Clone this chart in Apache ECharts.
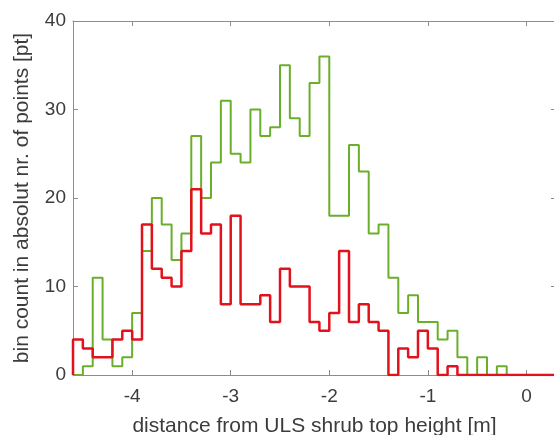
<!DOCTYPE html>
<html>
<head>
<meta charset="utf-8">
<script src="https://cdn.jsdelivr.net/npm/echarts@6/dist/echarts.min.js"></script>
<style>
  html, body { margin: 0; padding: 0; background: #fff; }
  #chart1 { width: 554px; height: 435px; }
</style>
</head>
<body>
<div id="chart1"></div>
<script>
// histogram bins: left edge of first bin and bin width [m]
var binStart = -4.6;
var binWidth = 0.1;

// bin counts, green and red histograms (one value per 0.1 m bin, from -4.6)
var greenCounts = [0, 1, 11, 4, 1, 2, 7, 14, 20, 17, 13, 16, 27, 20, 24, 31, 25, 24, 30, 27,
    28, 35, 29, 27, 33, 36, 18, 18, 26, 23, 16, 17, 11, 7, 9, 6, 6, 4, 5, 2,
    0, 2, 0, 1, 0, 0, 0, 0, 0];
var redCounts = [4, 3, 2, 2, 4, 5, 4, 17, 12, 11, 10, 14, 21, 16, 17, 8, 18, 8, 8, 9,
    6, 12, 10, 10, 6, 5, 7, 14, 6, 8, 6, 5, 0, 3, 2, 5, 3, 0, 1, 0,
    0, 0, 0, 0, 0, 0, 0, 0, 0];

var xTicks = [-4, -3, -2, -1, 0];
var yTicks = [0, 10, 20, 30, 40];

// turn counts into step points on bin edges
function stepData(counts) {
    var pts = [[binStart, 0]];
    for (var i = 0; i < counts.length; i++) {
        var x = +(binStart + i * binWidth).toFixed(2);
        pts.push([x, counts[i]]);
    }
    pts.push([+(binStart + counts.length * binWidth).toFixed(2), counts[counts.length - 1]]);
    return pts;
}

var axisColor = '#8c8c8c';
var textColor = '#3c3c3c';
var font = "'Liberation Sans', Arial, sans-serif";

var chart = echarts.init(document.getElementById('chart1'));

var option = {
    animation: false,
    backgroundColor: '#fff',
    grid: {
        left: 73,
        top: 21,
        right: -2,
        bottom: 60,
        containLabel: false,
        outerBoundsMode: 'none'
    },
    xAxis: [{
        type: 'value',
        min: -4.6,
        max: 0.3,
        position: 'bottom',
        name: 'distance from ULS shrub top height [m]',
        nameLocation: 'middle',
        nameGap: 41,
        nameTextStyle: { color: textColor, fontSize: 21, fontFamily: font },
        axisLine: { show: true, onZero: false, lineStyle: { color: axisColor, width: 1 } },
        axisTick: { show: true, inside: true, length: 5, customValues: xTicks, lineStyle: { color: axisColor } },
        axisLabel: { customValues: xTicks, color: textColor, fontSize: 19, fontFamily: font, margin: 12 },
        splitLine: { show: false }
    }, {
        type: 'value',
        min: -4.6,
        max: 0.3,
        position: 'top',
        axisLine: { show: true, onZero: false, lineStyle: { color: axisColor, width: 1 } },
        axisTick: { show: true, inside: true, length: 5, customValues: xTicks, lineStyle: { color: axisColor } },
        axisLabel: { show: false },
        splitLine: { show: false }
    }],
    yAxis: [{
        type: 'value',
        min: 0,
        max: 40,
        interval: 10,
        position: 'left',
        name: 'bin count in absolut nr. of points [pt]',
        nameLocation: 'middle',
        nameGap: 40,
        nameTextStyle: { color: textColor, fontSize: 21, fontFamily: font },
        axisLine: { show: true, onZero: false, lineStyle: { color: axisColor, width: 1 } },
        axisTick: { show: true, inside: true, length: 5, customValues: yTicks, lineStyle: { color: axisColor } },
        axisLabel: { customValues: yTicks, color: textColor, fontSize: 19, fontFamily: font, margin: 7 },
        splitLine: { show: false }
    }, {
        type: 'value',
        min: 0,
        max: 40,
        interval: 10,
        position: 'right',
        axisLine: { show: true, onZero: false, lineStyle: { color: axisColor, width: 1 } },
        axisTick: { show: true, inside: true, length: 5, lineStyle: { color: axisColor } },
        axisLabel: { show: false },
        splitLine: { show: false }
    }],
    series: [{
        name: 'green',
        type: 'line',
        step: 'end',
        xAxisIndex: 0,
        yAxisIndex: 0,
        symbol: 'none',
        data: stepData(greenCounts),
        lineStyle: { color: '#6aaf2c', width: 2 },
        z: 2
    }, {
        name: 'red',
        type: 'line',
        step: 'end',
        xAxisIndex: 0,
        yAxisIndex: 0,
        symbol: 'none',
        data: stepData(redCounts),
        lineStyle: { color: '#e2121c', width: 2.5 },
        z: 3
    }]
};

chart.setOption(option);
</script>
</body>
</html>
